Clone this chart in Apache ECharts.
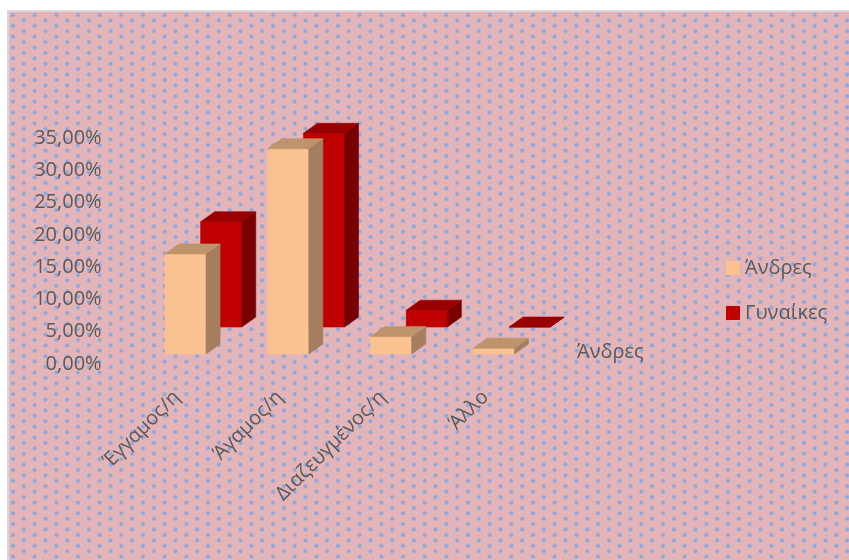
<!DOCTYPE html>
<html>
<head>
<meta charset="utf-8">
<script src="https://cdn.jsdelivr.net/npm/echarts@6/dist/echarts.min.js"></script>
<style>
  html, body { margin: 0; padding: 0; background: #ffffff; }
  #chart {
    position: absolute; left: 7px; top: 10px;
    width: 842px; height: 550px;
    border-left: 2px solid #d9d9d9; border-top: 2px solid #d9d9d9;
  }
</style>
</head>
<body>
<div id="chart"></div>
<script>
// Marital status by sex (share of all respondents)
const categories = ['Έγγαμος/η', 'Άγαμος/η', 'Διαζευγμένος/η', 'Άλλο'];
const seriesNames = ['Άνδρες', 'Γυναίκες'];
const menValues = [0.155, 0.318, 0.027, 0.009];
const womenValues = [0.163, 0.300, 0.026, 0.000];
const depthAxisLabels = ['Άνδρες'];

const TEXT = '#595959';
const FONT = 'Open Sans';

// Face colours for the pseudo-3D columns: front, top, side
const palette = [
  { front: '#FAC291', top: '#BF936C', side: '#A47E5E' },
  { front: '#C00000', top: '#990000', side: '#780000' }
];

// Oblique projection: offset of each series row and of a column's depth
const rowShift = [{ x: 8.5, y: 10 }, { x: 44.2, y: 37 }];
const depth = { x: 14, y: 10 };

// Dotted background tile
function makeTile() {
  const c = document.createElement('canvas');
  c.width = 65; c.height = 65;
  const g = c.getContext('2d');
  g.fillStyle = '#E3B5B8';
  g.fillRect(0, 0, 65, 65);
  const sx = 65 / 6, sy = 65 / 12;
  for (let i = -1; i <= 6; i++) {
    for (let j = -1; j <= 12; j++) {
      if ((i + j) % 2 !== 0) continue;
      const cx = i * sx + 4, cy = j * sy + 3;
      const r = 2.8;
      const grad = g.createRadialGradient(cx, cy, 0, cx, cy, r);
      grad.addColorStop(0, 'rgba(130,162,225,1)');
      grad.addColorStop(0.55, 'rgba(140,168,222,0.85)');
      grad.addColorStop(1, 'rgba(160,175,215,0)');
      g.fillStyle = grad;
      g.beginPath();
      g.arc(cx, cy, r, 0, Math.PI * 2);
      g.fill();
    }
  }
  return c;
}

function columnRenderer(row) {
  return function (params, api) {
    const cat = api.value(0);
    const v = api.value(1);
    const base = api.coord([cat, 0]);
    const top = api.coord([cat, v]);
    const band = api.size([1, 0])[0];
    const w = band / 2.5;
    const s = rowShift[row];
    const x0 = base[0] - w / 2 + s.x;
    const x1 = x0 + w;
    const yB = base[1] - s.y;
    const yT = top[1] - s.y;
    const c = palette[row];
    const face = (pts, col) => ({
      type: 'polygon',
      shape: { points: pts },
      style: { fill: col, stroke: col, lineWidth: 0.6 }
    });
    return {
      type: 'group',
      children: [
        face([[x0, yB], [x1, yB], [x1, yT], [x0, yT]], c.front),
        face([[x1, yB], [x1 + depth.x, yB - depth.y], [x1 + depth.x, yT - depth.y], [x1, yT]], c.side),
        face([[x0, yT], [x1, yT], [x1 + depth.x, yT - depth.y], [x0 + depth.x, yT - depth.y]], c.top)
      ]
    };
  };
}

const chart = echarts.init(document.getElementById('chart'), null, { renderer: 'canvas' });

chart.setOption({
  backgroundColor: { image: makeTile(), repeat: 'repeat' },
  animation: false,
  textStyle: { fontFamily: FONT },
  grid: { left: 116.6, width: 411.2, top: 126, bottom: 198 },
  legend: {
    orient: 'vertical',
    left: 712, top: 241,
    itemWidth: 14, itemHeight: 14, itemGap: 25,
    textStyle: { color: TEXT, fontSize: 20, fontFamily: FONT },
    data: seriesNames.map(n => ({ name: n, icon: 'rect' }))
  },
  xAxis: {
    type: 'category',
    data: categories,
    axisLine: { show: false },
    axisTick: { show: false },
    axisLabel: { rotate: 45, margin: 30, color: TEXT, fontSize: 20, fontFamily: FONT, interval: 0 }
  },
  yAxis: {
    type: 'value',
    min: 0, max: 0.35, interval: 0.05,
    axisLine: { show: false },
    axisTick: { show: false },
    splitLine: { show: false },
    axisLabel: {
      margin: 24, color: TEXT, fontSize: 20, fontFamily: FONT,
      formatter: v => (v * 100).toFixed(2).replace('.', ',') + '%'
    }
  },
  graphic: depthAxisLabels.map((t, i) => ({
    type: 'text',
    left: 568, top: 330 + i * 30,
    style: { text: t, fill: TEXT, font: '20px "' + FONT + '"' }
  })),
  series: [
    {
      name: seriesNames[0], type: 'custom', z: 3,
      itemStyle: { color: palette[0].front },
      renderItem: columnRenderer(0),
      encode: { x: 0, y: 1 },
      data: menValues.map((v, i) => [i, v])
    },
    {
      name: seriesNames[1], type: 'custom', z: 2,
      itemStyle: { color: palette[1].front },
      renderItem: columnRenderer(1),
      encode: { x: 0, y: 1 },
      data: womenValues.map((v, i) => [i, v])
    }
  ]
});
</script>
</body>
</html>
